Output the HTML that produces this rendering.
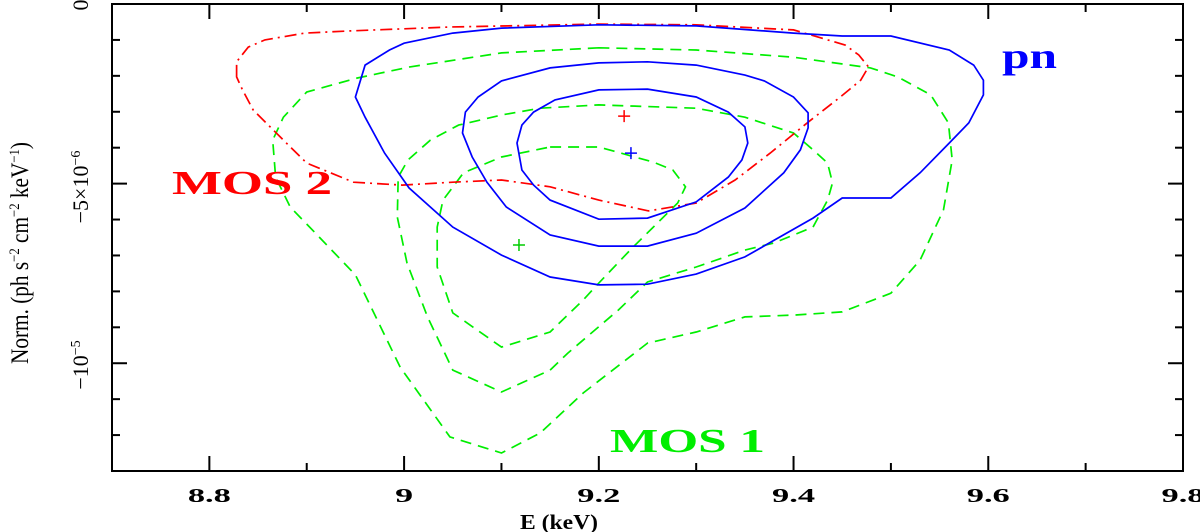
<!DOCTYPE html>
<html><head><meta charset="utf-8"><style>
html,body{margin:0;padding:0;background:#fff;}
svg{display:block;font-family:"Liberation Serif",serif;}
</style></head><body>
<svg id="chart" width="1200" height="532" viewBox="0 0 1200 532" xmlns="http://www.w3.org/2000/svg">
<rect x="112" y="4" width="1071" height="467" fill="none" stroke="#000" stroke-width="2"/>
<g id="ticks"></g>
<g id="marks"></g>
<text transform="translate(28,253) rotate(-90)" text-anchor="middle" font-size="25" fill="#000" textLength="222" lengthAdjust="spacingAndGlyphs">Norm. (ph s<tspan font-size="15" dy="-9">−2</tspan><tspan dy="9"> cm</tspan><tspan font-size="15" dy="-9">−2</tspan><tspan dy="9"> keV</tspan><tspan font-size="15" dy="-9">−1</tspan><tspan dy="9">)</tspan></text>
<text transform="translate(88,5) rotate(-90)" text-anchor="middle" font-size="22">0</text>
<text transform="translate(88,187) rotate(-90)" text-anchor="middle" font-size="22">−5×10<tspan font-size="14" dy="-8">−6</tspan></text>
<text transform="translate(88,365) rotate(-90)" text-anchor="middle" font-size="22">−10<tspan font-size="14" dy="-8">−5</tspan></text>
<text x="559" y="529" text-anchor="middle" font-size="21" font-weight="bold" textLength="78" lengthAdjust="spacingAndGlyphs">E (keV)</text>
<text x="172" y="194" font-size="34" font-weight="bold" fill="#ff0000" textLength="160" lengthAdjust="spacingAndGlyphs">MOS 2</text>
<text x="1002" y="68" font-size="36" font-weight="bold" fill="#0000ff" textLength="55" lengthAdjust="spacingAndGlyphs">pn</text>
<text x="610" y="452" font-size="34" font-weight="bold" fill="#00ee00" textLength="155" lengthAdjust="spacingAndGlyphs">MOS 1</text>
</svg>
<script>
const xTicks = [8.8, 9, 9.2, 9.4, 9.6, 9.8];
const xTickLabels = ["8.8", "9", "9.2", "9.4", "9.6", "9.8"];
// norms in units of 1e-6
const blueOuterE = [8.95,8.96,8.985,9.0,9.05,9.1,9.2,9.3,9.4,9.45,9.5,9.56,9.585,9.595,9.595,9.58,9.56,9.53,9.5,9.45,9.42,9.35,9.3,9.25,9.2,9.15,9.1,9.05,9.005,8.98,8.96];
const blueOuterN = [-2.59,-1.70,-1.28,-1.09,-0.81,-0.67,-0.58,-0.61,-0.81,-0.89,-0.89,-1.28,-1.70,-2.12,-2.53,-3.31,-3.87,-4.70,-5.40,-5.40,-5.96,-7.04,-7.52,-7.80,-7.82,-7.60,-6.99,-6.21,-5.12,-4.15,-3.15];
const blueMidE = [9.06,9.063,9.076,9.1,9.15,9.2,9.25,9.3,9.35,9.37,9.4,9.415,9.415,9.407,9.39,9.35,9.3,9.25,9.2,9.15,9.105,9.085,9.07];
const blueMidN = [-3.59,-3.01,-2.59,-2.14,-1.78,-1.64,-1.61,-1.70,-1.98,-2.14,-2.59,-3.03,-3.45,-4.06,-4.70,-5.68,-6.38,-6.74,-6.74,-6.43,-5.65,-4.96,-4.26];
const blueInE = [9.116,9.121,9.133,9.155,9.2,9.25,9.3,9.333,9.35,9.353,9.347,9.333,9.3,9.25,9.2,9.15,9.133,9.121];
const blueInN = [-3.87,-3.37,-3.01,-2.67,-2.39,-2.37,-2.59,-3.01,-3.42,-3.87,-4.34,-4.82,-5.51,-5.96,-5.99,-5.46,-5.04,-4.62];
const redE = [8.828,8.828,8.84,8.857,8.898,8.945,9.047,9.2,9.3,9.4,9.453,9.467,9.477,9.469,9.448,9.414,9.376,9.34,9.3,9.251,9.2,9.15,9.1,9.05,8.998,8.948,8.9,8.876,8.845,8.834];
const redN = [-2.03,-1.61,-1.20,-1.00,-0.81,-0.75,-0.64,-0.56,-0.58,-0.72,-1.14,-1.42,-1.75,-2.12,-2.59,-3.31,-4.15,-4.90,-5.54,-5.76,-5.46,-5.09,-4.90,-4.96,-5.04,-4.96,-4.43,-3.79,-2.95,-2.39];
const green1E = [9.2,9.1,9.006,8.952,8.9,8.876,8.865,8.868,8.883,8.909,8.95,8.996,9.047,9.1,9.14,9.184,9.25,9.3,9.35,9.4,9.45,9.5,9.53,9.554,9.563,9.559,9.541,9.507,9.479,9.4,9.3];
const green1N = [-1.22,-1.36,-1.75,-2.06,-2.45,-3.15,-3.79,-4.82,-5.65,-6.38,-7.54,-10.11,-12.05,-12.50,-11.94,-10.83,-9.44,-9.13,-8.71,-8.66,-8.57,-8.05,-7.13,-5.73,-4.34,-3.31,-2.53,-2.03,-1.78,-1.48,-1.28];
const green2E = [9.14,9.2,9.3,9.35,9.4,9.42,9.435,9.44,9.435,9.42,9.38,9.35,9.3,9.25,9.22,9.168,9.15,9.1,9.05,9.024,9.003,8.993,8.994,9.004,9.027,9.056,9.1];
const green2N = [-2.90,-2.81,-2.90,-3.15,-3.59,-4.06,-4.43,-4.98,-5.46,-6.21,-6.65,-6.85,-7.32,-7.74,-8.52,-9.72,-10.19,-10.80,-10.19,-8.71,-7.21,-5.93,-4.82,-4.34,-3.79,-3.37,-3.09];
const green3E = [9.15,9.2,9.256,9.276,9.289,9.281,9.256,9.235,9.2,9.184,9.15,9.1,9.05,9.034,9.034,9.04,9.061,9.1];
const green3N = [-3.98,-3.98,-4.40,-4.62,-5.09,-5.54,-6.21,-6.77,-7.77,-8.24,-9.13,-9.55,-8.60,-7.32,-6.21,-5.46,-4.70,-4.26];
const bestFitE = [9.226, 9.233, 9.118];
const bestFitN = [-3.12, -4.15, -6.71];

const X0 = 112, X1 = 1183, Y0 = 4, Y1 = 471;
const E_MIN = 8.7, E_MAX = 9.8, N_MAX = 0, N_MIN = -13;
function xs(e){ return X0 + (e - E_MIN) / (E_MAX - E_MIN) * (X1 - X0); }
function ys(n){ return Y0 + (N_MAX - n) / (N_MAX - N_MIN) * (Y1 - Y0); }
const NS = "http://www.w3.org/2000/svg";
const svg = document.getElementById('chart');
const tg = document.getElementById('ticks');
const mg = document.getElementById('marks');
function line(g, x1, y1, x2, y2){
  const l = document.createElementNS(NS, 'line');
  l.setAttribute('x1', x1); l.setAttribute('y1', y1); l.setAttribute('x2', x2); l.setAttribute('y2', y2);
  l.setAttribute('stroke', '#000'); l.setAttribute('stroke-width', '2');
  
  
  g.appendChild(l);
}
for (let k = 0; k <= 11; k++) {
  const e = E_MIN + k * 0.1, x = xs(e);
  const major = (k % 2 === 1);
  const len = major ? 15 : 8;
  line(tg, x, Y1, x, Y1 - len); line(tg, x, Y0, x, Y0 + len);
}
for (let k = 0; k <= 13; k++) {
  const y = ys(-k);
  const len = (k % 5 === 0) ? 15 : 8;
  line(tg, X0, y, X0 + len, y); line(tg, X1, y, X1 - len, y);
}
xTicks.forEach((v, i) => {
  const t = document.createElementNS(NS, 'text');
  t.setAttribute('x', xs(v)); t.setAttribute('y', 502);
  t.setAttribute('text-anchor', 'middle'); t.setAttribute('font-size', '20');
  t.setAttribute('font-weight', 'bold');
  t.setAttribute('textLength', String(xTickLabels[i].length === 1 ? 18 : 43));
  t.setAttribute('lengthAdjust', 'spacingAndGlyphs');
  t.textContent = xTickLabels[i];
  
  
  svg.appendChild(t);
});
function contour(E, N, color, dash, name){
  const p = document.createElementNS(NS, 'polygon');
  p.setAttribute('points', E.map((e, i) => xs(e).toFixed(1) + ',' + ys(N[i]).toFixed(1)).join(' '));
  p.setAttribute('fill', 'none'); p.setAttribute('stroke', color); p.setAttribute('stroke-width', '1.7');
  if (dash) p.setAttribute('stroke-dasharray', dash);
  
  
  mg.appendChild(p);
}
contour(green1E, green1N, '#00ee00', '11,7', 'mos1-contour-outer');
contour(green2E, green2N, '#00ee00', '11,7', 'mos1-contour-middle');
contour(green3E, green3N, '#00ee00', '11,7', 'mos1-contour-inner');
contour(redE, redN, '#ff0000', '12,5,2,5', 'mos2-contour');
contour(blueOuterE, blueOuterN, '#0000ff', null, 'pn-contour-outer');
contour(blueMidE, blueMidN, '#0000ff', null, 'pn-contour-middle');
contour(blueInE, blueInN, '#0000ff', null, 'pn-contour-inner');
const crossColors = ['#ff0000', '#0000ff', '#00cc00'];
bestFitE.forEach((e, i) => {
  const x = xs(e), y = ys(bestFitN[i]);
  const p = document.createElementNS(NS, 'path');
  p.setAttribute('d', `M${x-6},${y}H${x+6}M${x},${y-6}V${y+6}`);
  p.setAttribute('stroke', crossColors[i]); p.setAttribute('stroke-width', '1.5');
  
  
  mg.appendChild(p);
});
</script>
</body></html>
